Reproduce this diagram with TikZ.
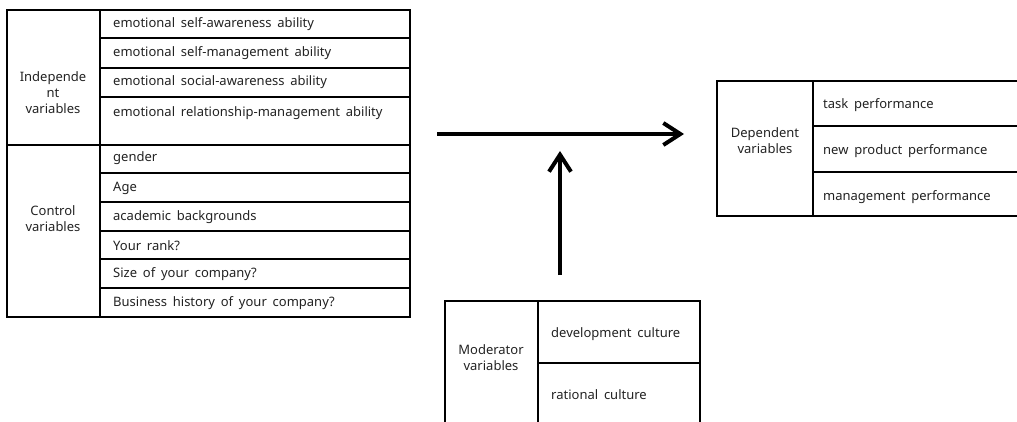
\documentclass[tikz,border=0pt]{standalone}
\usepackage{fontspec}
\setmainfont{Noto Sans}
\usetikzlibrary{arrows.meta}
\definecolor{ink}{HTML}{222222}
\newcommand{\cellfont}{\fontsize{13}{16}\selectfont\spaceskip=5.8pt plus 1pt\relax}
\begin{document}
\begin{tikzpicture}[x=1pt,y=-1pt,
  grid/.style={line width=1.8pt,black},
  flow/.style={line width=4pt,black,-{Straight Barb[length=17pt,width=22pt,line width=4pt]}},
  lbl/.style={font=\cellfont,text=ink,inner sep=0pt,anchor=west},
  head/.style={font=\fontsize{13}{16}\selectfont,text=ink,inner sep=0pt,align=center}]
\useasboundingbox (0,0) rectangle (1017,422);

% --- independent and control variables table ---
\draw[grid] (7,10) rectangle (410,317);
\draw[grid] (100,10) -- (100,317);
\foreach \yy in {38,68,97,173,202,231,259,288} \draw[grid] (100,\yy) -- (410,\yy);
\draw[grid] (7,145) -- (410,145);
\node[head] (indep) at (53,93) {Independe\\nt\\variables};
\node[head] (ctrl) at (53,219) {Control\\variables};
\node[lbl] (i1) at (113,24) {emotional self-awareness ability};
\node[lbl] (i2) at (113,53) {emotional self-management ability};
\node[lbl] (i3) at (113,82) {emotional social-awareness ability};
\node[lbl] (i4) at (113,113) {emotional relationship-management ability};
\node[lbl] (c1) at (113,158) {gender};
\node[lbl] (c2) at (113,188) {Age};
\node[lbl] (c3) at (113,217) {academic backgrounds};
\node[lbl] (c4) at (113,246) {Your rank?};
\node[lbl] (c5) at (113,274) {Size of your company?};
\node[lbl] (c6) at (113,303) {Business history of your company?};

% --- dependent variables table ---
\draw[grid] (1017,81) -- (717,81) -- (717,216) -- (1017,216);
\draw[grid] (813,81) -- (813,216);
\draw[grid] (813,126) -- (1017,126);
\draw[grid] (813,172) -- (1017,172);
\node[head] (dep) at (765,141) {Dependent\\variables};
\node[lbl] (d1) at (823,105) {task performance};
\node[lbl] (d2) at (823,151) {new product performance};
\node[lbl] (d3) at (823,197) {management performance};

% --- moderator variables table ---
\draw[grid] (445,422) -- (445,301) -- (700,301) -- (700,422);
\draw[grid] (538,301) -- (538,422);
\draw[grid] (538,363) -- (700,363);
\node[head] (mod) at (491,358) {Moderator\\variables};
\node[lbl] (m1) at (551,334) {development culture};
\node[lbl] (m2) at (551,395) {rational culture};

% --- paths of effect ---
\coordinate (src) at (437,134);
\coordinate (dst) at (684,134);
\coordinate (mfoot) at (560,275);
\coordinate (mtip) at (560,151);
\draw[flow] (src) -- (dst);
\draw[flow] (mfoot) -- (mtip);
\end{tikzpicture}
\end{document}
